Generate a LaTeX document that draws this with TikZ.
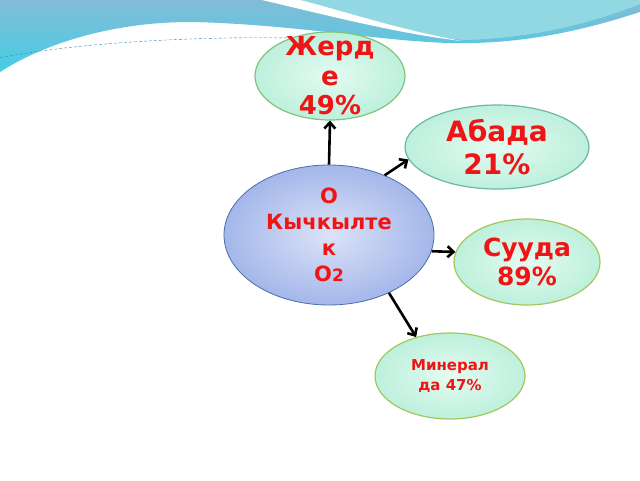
\documentclass[tikz,border=0pt]{standalone}
\usepackage{fontspec}
\setmainfont{DejaVu Sans}
\usetikzlibrary{shapes.geometric,arrows.meta}

\definecolor{textred}{HTML}{F01414}
\definecolor{wavetop}{HTML}{82BCD6}
\definecolor{wavelow}{HTML}{46CDE6}
\definecolor{wavelight}{HTML}{92D8E2}
\definecolor{wavedark}{HTML}{2E8EB8}
\definecolor{mintin}{HTML}{E4FBF2}
\definecolor{mintout}{HTML}{BDF0DC}
\definecolor{bluein}{HTML}{DCE3F7}
\definecolor{blueout}{HTML}{A4B7EA}
\definecolor{blueline}{HTML}{4A6EA8}
\definecolor{greenline}{HTML}{80C47A}
\definecolor{tealline}{HTML}{6CB8A4}
\definecolor{limeline}{HTML}{A0C85E}

\tikzset{
  part/.style={ellipse, draw=#1, line width=1.2pt, inner sep=-20pt, align=center,
    text=textred, shading=radial, inner color=mintin, outer color=mintout},
  link/.style={-{Straight Barb[length=6pt,width=11pt]}, line width=2.6pt, black}
}

\begin{document}
\begin{tikzpicture}[x=1pt,y=-1pt]

    % Fix the frame of the slide
    \useasboundingbox (0,0) rectangle (640,480);
    \fill[white] (0,0) rectangle (640,480);

    % Draw the wave at the top
    \shade[top color=wavetop, bottom color=wavelow] (0,0) -- (0,72)
      .. controls (50,40) and (120,22) .. (190,22)
      .. controls (300,24) and (400,45) .. (470,43)
      .. controls (540,42) and (600,25) .. (640,12) -- (640,0) -- cycle;
    \fill[wavelight] (290,0) .. controls (350,20) and (410,36) .. (465,40)
      .. controls (540,38) and (600,20) .. (640,4) -- (640,0) -- cycle;
    \fill[white] (262,0) .. controls (330,16) and (400,34) .. (462,41)
      .. controls (400,30) and (340,10) .. (300,0) -- cycle;
    \draw[wavedark, densely dashed, thin] (0,58) .. controls (60,45) and (180,36) .. (290,38);

    % Define the central node
    \node[ellipse, draw=blueline, line width=0.8pt, inner sep=-20pt, align=center,
      text=textred, shading=radial, inner color=bluein, outer color=blueout,
      minimum width=210pt, minimum height=140pt,
      font=\bfseries\fontsize{21}{26}\selectfont] (oxy) at (329,235)
      {О\\Кычкылте\\к\\О{\fontsize{17}{26}\selectfont 2}};

    % Define the four parts
    \node[part=greenline, minimum width=150pt, minimum height=88pt,
      font=\bfseries\fontsize{26}{29.5}\selectfont] (zherde) at (330,76)
      {Жерд\\е\\49\%};
    \node[part=tealline, minimum width=184pt, minimum height=84pt,
      font=\bfseries\fontsize{28}{33}\selectfont] (abada) at (497,147)
      {Абада\\21\%};
    \node[part=limeline, minimum width=146pt, minimum height=86pt,
      font=\bfseries\fontsize{25}{29}\selectfont] (suuda) at (527,262)
      {Сууда\\89\%};
    \node[part=limeline, minimum width=150pt, minimum height=86pt,
      font=\bfseries\fontsize{15}{20}\selectfont] (mineral) at (450,376)
      {Минерал\\да 47\%};

    % Draw the arrows
    \draw[link] (oxy.north) -- (zherde.south);
    \draw[link] (oxy.47) -- (abada.188);
    \draw[link] (oxy.-9) -- (suuda.172);
    \draw[link] (oxy.-44) -- (mineral.131);

\end{tikzpicture}
\end{document}
